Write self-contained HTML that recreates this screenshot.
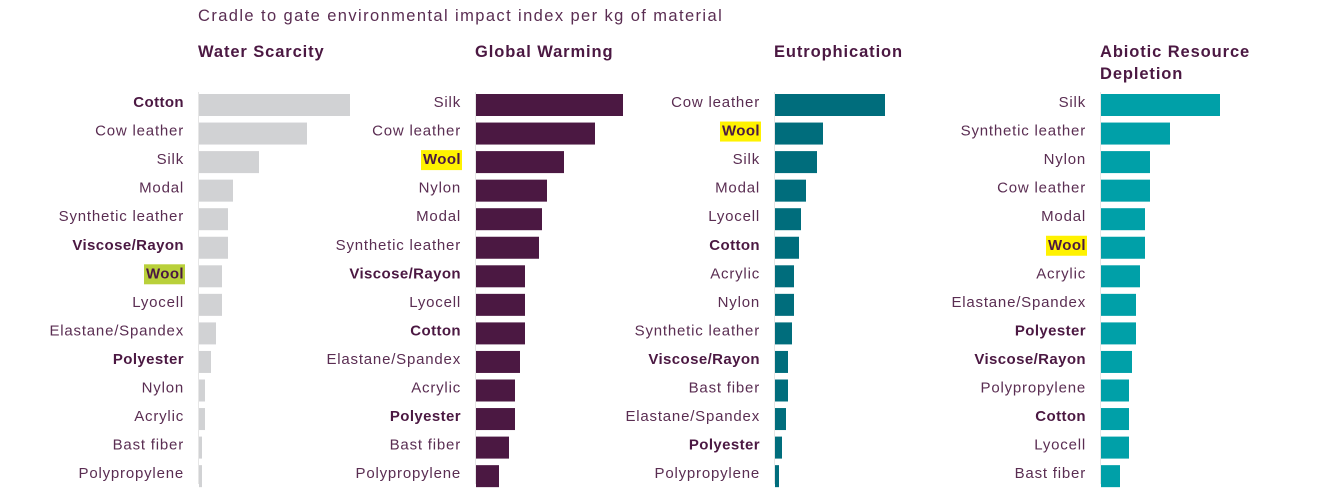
<!DOCTYPE html>
<html><head><meta charset="utf-8">
<style>
body{margin:0;background:#fff;}
svg{display:block;font-family:"Liberation Sans",sans-serif;}
</style></head>
<body>
<svg id="c" width="1322" height="504">
<text x="198" y="21" font-size="16.5" letter-spacing="1.4" fill="#5a2d52">Cradle to gate environmental impact index per kg of material</text>
</svg>
<script>
const ws_cats=["Cotton","Cow leather","Silk","Modal","Synthetic leather","Viscose/Rayon","Wool","Lyocell","Elastane/Spandex","Polyester","Nylon","Acrylic","Bast fiber","Polypropylene"];
const ws_vals=[151,108,60,34,29,29,23,23,17,12,6,6,3,3];
const gw_cats=["Silk","Cow leather","Wool","Nylon","Modal","Synthetic leather","Viscose/Rayon","Lyocell","Cotton","Elastane/Spandex","Acrylic","Polyester","Bast fiber","Polypropylene"];
const gw_vals=[147,119,88,71,66,63,49,49,49,44,39,39,33,23];
const eu_cats=["Cow leather","Wool","Silk","Modal","Lyocell","Cotton","Acrylic","Nylon","Synthetic leather","Viscose/Rayon","Bast fiber","Elastane/Spandex","Polyester","Polypropylene"];
const eu_vals=[110,48,42,31,26,24,19,19,17,13,13,11,7,4];
const ar_cats=["Silk","Synthetic leather","Nylon","Cow leather","Modal","Wool","Acrylic","Elastane/Spandex","Polyester","Viscose/Rayon","Polypropylene","Cotton","Lyocell","Bast fiber"];
const ar_vals=[119,69,49,49,44,44,39,35,35,31,28,28,28,19];
const bold=["Cotton","Viscose/Rayon","Wool","Polyester"];
const panels=[
 {name:"water-scarcity",title:["Water Scarcity"],cats:ws_cats,vals:ws_vals,x0:199,color:"#d1d2d4",hl:"#b9d03a"},
 {name:"global-warming",title:["Global Warming"],cats:gw_cats,vals:gw_vals,x0:476,color:"#4b1842",hl:"#fff200"},
 {name:"eutrophication",title:["Eutrophication"],cats:eu_cats,vals:eu_vals,x0:775,color:"#006d7c",hl:"#fff200"},
 {name:"abiotic-depletion",title:["Abiotic Resource","Depletion"],cats:ar_cats,vals:ar_vals,x0:1101,color:"#00a0a8",hl:"#fff200"}
];
const NS="http://www.w3.org/2000/svg";
const svg=document.getElementById('c');
function mk(t,a){const e=document.createElementNS(NS,t);for(const k in a)e.setAttribute(k,a[k]);svg.appendChild(e);return e;}
const yBand=i=>94+i*28.55;
const xLen=v=>v*1.0;
panels.forEach(p=>{
  p.title.forEach((t,j)=>{
    const e=mk('text',{x:p.x0-1,y:57+j*22,'font-size':16.5,'letter-spacing':0.9,'font-weight':'bold',fill:'#4b1842'});
    e.textContent=t;
    
    
  });
  const ax=mk('line',{x1:p.x0-0.5,x2:p.x0-0.5,y1:92,y2:484,stroke:'#e6e6e6','stroke-width':1});
  
  
  p.cats.forEach((c,i)=>{
    const y=yBand(i);
    const r=mk('rect',{x:p.x0,y:y,width:xLen(p.vals[i]),height:22,fill:p.color});
    
    
    const b=bold.includes(c);
    const tx=p.x0-15;
    if(c==="Wool"){
      const hw=41;
      const h=mk('rect',{x:tx-hw+1,y:y-1,width:hw,height:20,fill:p.hl});
      
      
    }
    const t=mk('text',{x:tx,y:y+13,'font-size':15,'letter-spacing':b?0.4:0.8,'text-anchor':'end',fill:b?'#4b1842':'#5a2d52','font-weight':b?'bold':'normal'});
    t.textContent=c;
    
    
  });
});
</script>
</body></html>
